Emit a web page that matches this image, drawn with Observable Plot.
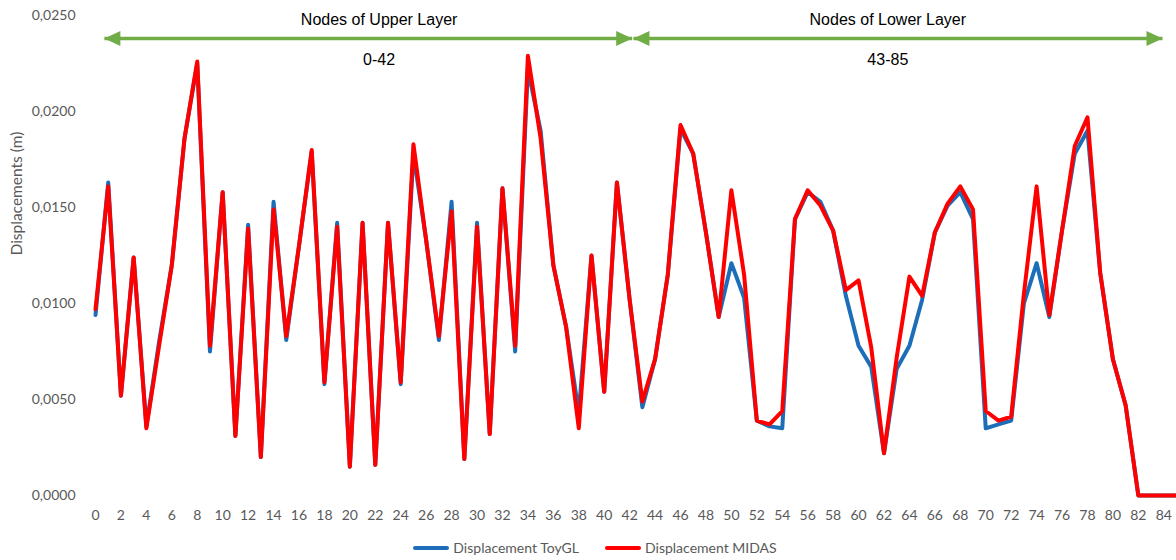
<!DOCTYPE html>
<html><head><meta charset="utf-8">
<script src="https://cdn.jsdelivr.net/npm/d3@7"></script>
<script src="https://cdn.jsdelivr.net/npm/@observablehq/plot@0.6"></script>
<style>
body{margin:0;background:#fff;}
#legend{display:flex;justify-content:center;align-items:center;height:25px;font-family:Lato,"Open Sans",sans-serif;font-size:14px;color:#595959;padding-left:14px;}
#legend .item{display:flex;align-items:center;margin:0 13px;}
#legend .sw{display:inline-block;width:36px;height:4px;margin-right:4px;border-radius:2px;}
</style></head><body><div id="chart"></div><div id="legend"></div>
<script>
const nodes = [0,1,2,3,4,5,6,7,8,9,10,11,12,13,14,15,16,17,18,19,20,21,22,23,24,25,26,27,28,29,30,31,32,33,34,35,36,37,38,39,40,41,42,43,44,45,46,47,48,49,50,51,52,53,54,55,56,57,58,59,60,61,62,63,64,65,66,67,68,69,70,71,72,73,74,75,76,77,78,79,80,81,82,83,84,85];
const toyGL = [0.0094,0.0163,0.0052,0.0124,0.0036,0.0080,0.0120,0.0186,0.0225,0.0075,
  0.0158,0.0031,0.0141,0.0020,0.0153,0.0081,0.0130,0.0179,0.0058,0.0142,
  0.0015,0.0142,0.0016,0.0142,0.0058,0.0178,0.0133,0.0081,0.0153,0.0019,
  0.0142,0.0032,0.0160,0.0075,0.0222,0.0190,0.0120,0.0088,0.0043,0.0125,
  0.0054,0.0163,0.0102,0.0046,0.0071,0.0115,0.0191,0.0178,0.0137,0.0093,
  0.0121,0.0103,0.0039,0.0036,0.0035,0.0144,0.0158,0.0153,0.0138,0.0104,
  0.0078,0.0067,0.0022,0.0066,0.0078,0.0102,0.0137,0.0151,0.0158,0.0144,
  0.0035,0.0037,0.0039,0.0100,0.0121,0.0093,0.0138,0.0178,0.0190,0.0116,
  0.0071,0.0047,0,0,0,0];
const midas = [0.0097,0.0161,0.0052,0.0124,0.0035,0.0078,0.0120,0.0186,0.0226,0.0078,
  0.0158,0.0031,0.0139,0.0020,0.0149,0.0083,0.0130,0.0180,0.0059,0.0140,
  0.0015,0.0142,0.0016,0.0142,0.0059,0.0183,0.0133,0.0083,0.0148,0.0019,
  0.0140,0.0032,0.0160,0.0078,0.0229,0.0186,0.0120,0.0088,0.0035,0.0125,
  0.0054,0.0163,0.0102,0.0049,0.0071,0.0115,0.0193,0.0178,0.0137,0.0093,
  0.0159,0.0115,0.0039,0.0037,0.0044,0.0144,0.0159,0.0151,0.0138,0.0107,
  0.0112,0.0077,0.0022,0.0072,0.0114,0.0104,0.0137,0.0152,0.0161,0.0149,
  0.0044,0.0039,0.0041,0.0105,0.0161,0.0094,0.0138,0.0182,0.0197,0.0116,
  0.0071,0.0047,0,0,0,0];
const seriesNames = ["Displacement ToyGL", "Displacement MIDAS"];
const xTicks = [0,2,4,6,8,10,12,14,16,18,20,22,24,26,28,30,32,34,36,38,40,42,44,46,48,50,52,54,56,58,60,62,64,66,68,70,72,74,76,78,80,82,84];
const yTicks = [0, 0.005, 0.010, 0.015, 0.020, 0.025];
const yTitle = "Displacements (m)";
const layerNames = ["Nodes of Upper Layer", "Nodes of Lower Layer"];
const layerRanges = ["0-42", "43-85"];
const layerStart = [0.7, 42.3];
const layerEnd = [42.2, 83.9];
const layerLabelAt = [22.3, 62.3];

const colors = ["#1C6EB9", "#FF0000"];
const green = "#70AD47";
const arrowY = 0.0238, titleY = 0.02475, rangeY = 0.0227;

const toyRows = nodes.map((n, i) => ({node: n, value: toyGL[i]}));
const midasRows = nodes.map((n, i) => ({node: n, value: midas[i]}));
const layers = layerNames.map((name, i) => ({name, range: layerRanges[i], start: layerStart[i], end: layerEnd[i], at: layerLabelAt[i]}));
const heads = layers.flatMap(l => [{x: l.start, rot: -90}, {x: l.end, rot: 90}]);

const tri = {draw(ctx, l) { ctx.moveTo(0, -l); ctx.lineTo(7.5, 0); ctx.lineTo(-7.5, 0); ctx.closePath(); }};

const chart = Plot.plot({
  width: 1176, height: 535,
  marginLeft: 95, marginRight: 0, marginTop: 15, marginBottom: 40,
  style: {fontFamily: "Lato, 'Open Sans', sans-serif", fontSize: "14px", color: "#595959", background: "#fff"},
  x: {domain: [0, 85], ticks: xTicks, tickSize: 0, tickPadding: 15, label: null},
  y: {domain: [0, 0.025], ticks: yTicks, tickFormat: d => d.toFixed(4).replace(".", ","), tickSize: 0, tickPadding: 20, label: null},
  marks: [
    Plot.text([yTitle], {frameAnchor: "left", text: d => d, rotate: -90, dx: -78, fontSize: 15.5, fill: "#595959"}),
    Plot.line(toyRows, {x: "node", y: "value", stroke: colors[0], strokeWidth: 4, strokeLinejoin: "round"}),
    Plot.line(midasRows, {x: "node", y: "value", stroke: colors[1], strokeWidth: 4, strokeLinejoin: "round"}),
    Plot.link(layers, {x1: "start", x2: "end", y1: () => arrowY, y2: () => arrowY, stroke: green, strokeWidth: 3.5}),
    Plot.vector(heads, {x: "x", y: () => arrowY, rotate: "rot", length: 16, anchor: "end", shape: tri, fill: green, stroke: "none"}),
    Plot.text(layers, {x: "at", y: () => titleY, text: "name", fontFamily: "'Liberation Sans', Arial, sans-serif", fontSize: 16, fill: "#000"}),
    Plot.text(layers, {x: "at", y: () => rangeY, text: "range", fontFamily: "'Liberation Sans', Arial, sans-serif", fontSize: 16, fill: "#000"})
  ]
});
document.getElementById("chart").appendChild(chart);

const legend = document.getElementById("legend");
seriesNames.forEach((name, i) => {
  const item = document.createElement("span");
  item.className = "item";
  const sw = document.createElement("span");
  sw.className = "sw";
  sw.style.background = colors[i];
  item.appendChild(sw);
  item.appendChild(document.createTextNode(name));
  legend.appendChild(item);
});
</script></body></html>
